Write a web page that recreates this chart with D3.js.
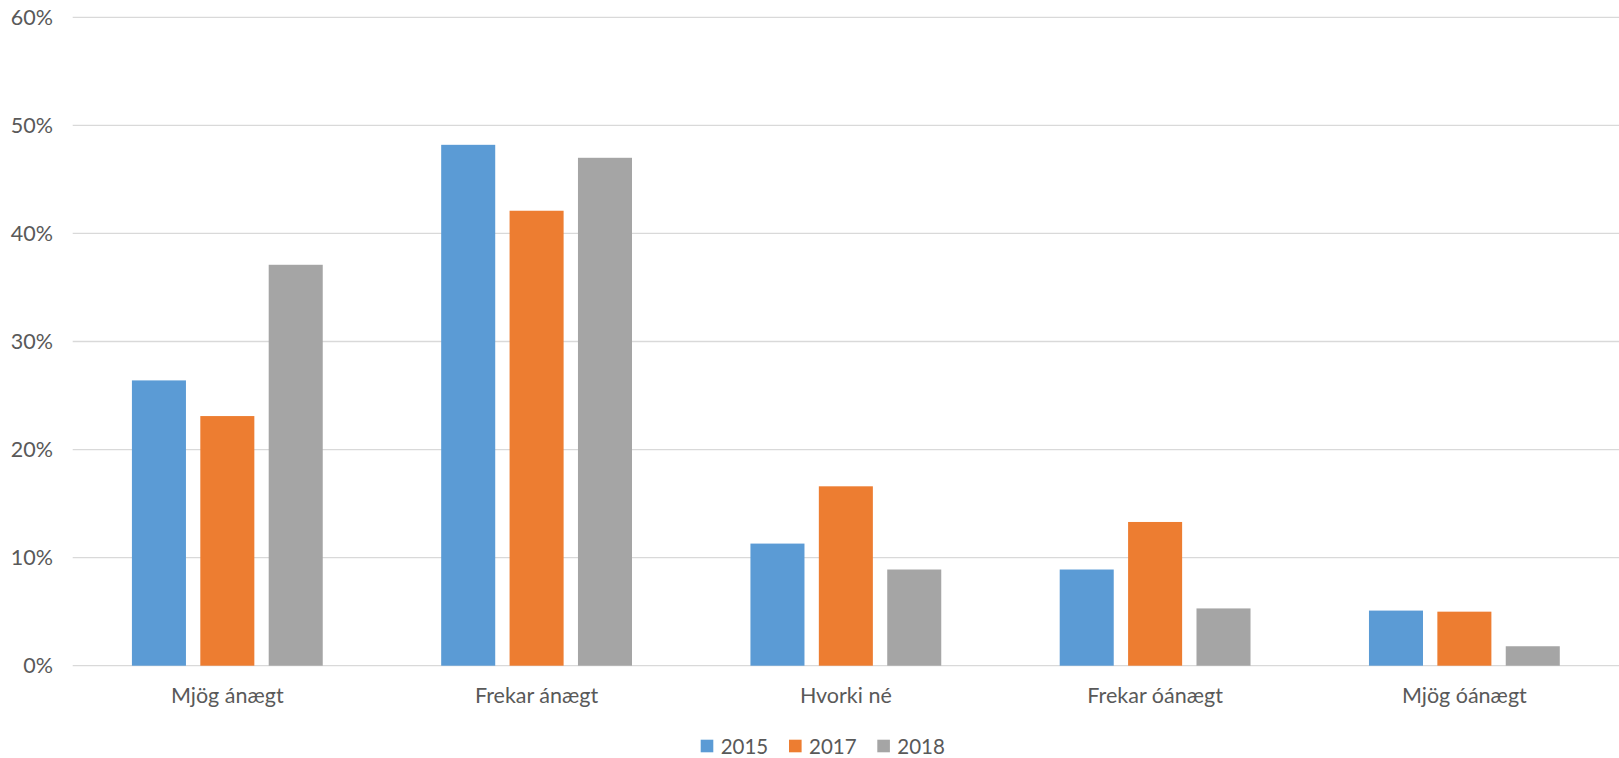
<!DOCTYPE html>
<html><head><meta charset="utf-8">
<script src="https://cdn.jsdelivr.net/npm/d3@7"></script>
<style>
html,body{margin:0;padding:0;background:#fff;}
text{font-family:Lato,"Open Sans",sans-serif;fill:#595959;}
</style></head>
<body>
<svg id="chart" width="1619" height="758"></svg>
<script>
const categories = ["Mjög ánægt", "Frekar ánægt", "Hvorki né", "Frekar óánægt", "Mjög óánægt"];
const seriesNames = ["2015", "2017", "2018"];
const values2015 = [26.4, 48.2, 11.3, 8.9, 5.1];
const values2017 = [23.1, 42.1, 16.6, 13.3, 5.0];
const values2018 = [37.1, 47.0, 8.9, 5.3, 1.8];
const yTicks = [0, 10, 20, 30, 40, 50, 60];
const colors = ["#5B9BD5", "#ED7D31", "#A5A5A5"];

(function () {
const series = [values2015, values2017, values2018];
const svg = d3.select("#chart");
const mLeft = 72.7, mRight = 1619, mTop = 17.3, mBottom = 665.7;

const y = d3.scaleLinear().domain([0, 60]).range([mBottom, mTop]);
const x0 = d3.scaleBand().domain(categories).range([mLeft, mRight]).paddingInner(0.383).paddingOuter(0.1915);
const x1 = d3.scaleBand().domain(seriesNames).range([0, x0.bandwidth()]).paddingInner(0.21);

svg.append("g").selectAll("line").data(yTicks).join("line")
  .attr("x1", mLeft).attr("x2", mRight)
  .attr("y1", d => y(d)).attr("y2", d => y(d))
  .attr("stroke", "#D9D9D9").attr("stroke-width", 1.3);

svg.append("g").selectAll("text").data(yTicks).join("text")
  .attr("x", 53).attr("y", d => y(d)).attr("dy", "0.35em")
  .attr("text-anchor", "end").attr("font-size", 21.5)
  .text(d => d + "%");

const groups = svg.append("g").selectAll("g").data(categories).join("g")
  .attr("transform", c => `translate(${x0(c)},0)`);
groups.selectAll("rect").data((c, i) => seriesNames.map((s, j) => ({s, v: series[j][i], j})))
  .join("rect")
  .attr("x", d => x1(d.s)).attr("width", x1.bandwidth())
  .attr("y", d => y(d.v)).attr("height", d => y(0) - y(d.v))
  .attr("fill", d => colors[d.j]);

svg.append("g").selectAll("text").data(categories).join("text")
  .attr("x", c => x0(c) + x0.bandwidth() / 2).attr("y", 703)
  .attr("text-anchor", "middle").attr("font-size", 21.5)
  .text(c => c);

const lg = svg.append("g").selectAll("g").data(seriesNames).join("g")
  .attr("transform", (d, i) => `translate(${700.7 + i * 88.3},0)`);
lg.append("rect").attr("x", 0).attr("y", 739.7).attr("width", 12.6).attr("height", 12.6)
  .attr("fill", (d, i) => colors[i]);
lg.append("text").attr("x", 20).attr("y", 753.5).attr("font-size", 20.5).text(d => d);
})();
</script>
</body></html>
